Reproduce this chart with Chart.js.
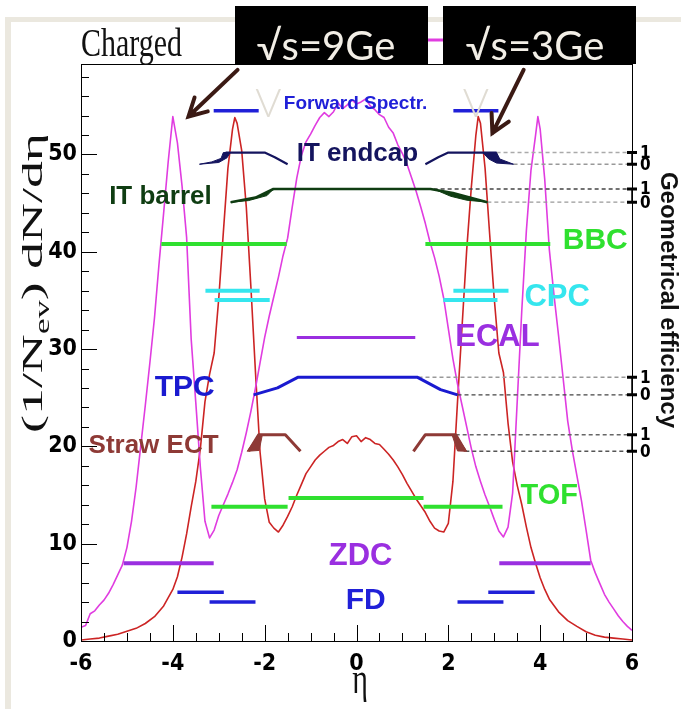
<!DOCTYPE html>
<html><head><meta charset="utf-8">
<script src="https://cdn.jsdelivr.net/npm/chart.js@4.4.0/dist/chart.umd.min.js"></script>
<style>html,body{margin:0;padding:0;background:#fff;overflow:hidden}canvas{display:block}</style>
</head><body>
<canvas id="c" width="681" height="709"></canvas>
<script>
// ---------- data ----------
const xTickValues = [-6,-4,-2,0,2,4,6];
const yTickValues = [0,10,20,30,40,50];

// sqrt(s)=9 GeV (magenta)
const eta9GeV = [-6.0,-5.9,-5.8,-5.7,-5.6,-5.5,-5.4,-5.3,-5.2,-5.1,-5.0,-4.9,-4.8,-4.7,-4.6,-4.5,-4.4,-4.3,-4.2,-4.1,-4.0,-3.9,-3.8,-3.7,-3.6,-3.5,-3.4,-3.3,-3.2,-3.1,-3.0,-2.9,-2.8,-2.7,-2.6,-2.5,-2.4,-2.3,-2.2,-2.1,-2.0,-1.9,-1.8,-1.7,-1.6,-1.5,-1.4,-1.3,-1.2,-1.1,-1.0,-0.9,-0.8,-0.7,-0.6,-0.5,-0.4,-0.3,-0.2,-0.1,0.0,0.1,0.2,0.3,0.4,0.5,0.6,0.7,0.8,0.9,1.0,1.1,1.2,1.3,1.4,1.5,1.6,1.7,1.8,1.9,2.0,2.1,2.2,2.3,2.4,2.5,2.6,2.7,2.8,2.9,3.0,3.1,3.2,3.3,3.4,3.5,3.6,3.7,3.8,3.9,3.95,4.0,4.1,4.2,4.3,4.4,4.5,4.6,4.7,4.8,4.9,5.0,5.1,5.2,5.3,5.4,5.5,5.6,5.7,5.8,5.9,6.0];
const dNdEta9GeV = [1.4,1.6,2.8,3.1,3.7,4.2,4.9,5.8,6.8,7.8,9.6,12.3,15.8,20.0,24.2,28.6,33.2,38.8,44.0,49.3,53.9,51.2,46.8,41.5,31.0,24.5,17.8,12.3,10.6,11.4,12.9,14.0,15.1,16.3,17.6,19.4,21.4,23.6,26.0,28.6,31.2,33.4,35.4,37.4,39.6,41.4,44.6,47.6,49.9,51.3,52.1,53.0,53.8,54.3,53.9,54.4,55.3,54.7,55.1,55.6,55.2,55.4,55.7,55.0,54.6,54.1,53.8,52.8,52.2,51.0,50.1,49.0,47.6,46.2,44.6,42.9,41.0,39.4,37.5,35.2,32.1,29.0,26.4,24.2,22.0,19.8,17.9,16.4,15.0,13.8,12.5,11.3,10.7,11.7,15.2,24.6,34.0,42.2,48.4,52.0,53.9,52.6,47.4,40.2,35.6,31.4,27.0,22.6,19.6,17.0,14.4,11.4,8.3,7.0,5.9,4.8,4.0,3.3,2.6,2.0,1.5,1.1];

// sqrt(s)=3 GeV (red)
const eta3GeV = [-6.0,-5.8,-5.6,-5.4,-5.2,-5.0,-4.8,-4.6,-4.4,-4.2,-4.0,-3.9,-3.8,-3.7,-3.6,-3.5,-3.4,-3.3,-3.2,-3.1,-3.0,-2.9,-2.8,-2.7,-2.65,-2.6,-2.5,-2.4,-2.3,-2.2,-2.1,-2.0,-1.9,-1.8,-1.7,-1.6,-1.5,-1.4,-1.3,-1.2,-1.1,-1.0,-0.9,-0.8,-0.7,-0.6,-0.5,-0.4,-0.3,-0.2,-0.1,0.0,0.1,0.2,0.3,0.4,0.5,0.6,0.7,0.8,0.9,1.0,1.1,1.2,1.3,1.4,1.5,1.6,1.7,1.8,1.9,2.0,2.1,2.2,2.3,2.4,2.5,2.6,2.65,2.7,2.8,2.9,3.0,3.1,3.2,3.3,3.4,3.5,3.6,3.7,3.8,3.9,4.0,4.1,4.2,4.4,4.6,4.8,5.0,5.2,5.4,5.6,5.8,6.0];
const dNdEta3GeV = [0.1,0.2,0.3,0.5,0.7,1.0,1.3,1.8,2.5,3.6,5.3,6.6,8.6,11.0,13.8,16.4,19.8,24.6,27.4,29.6,35.2,42.0,48.6,52.6,53.8,53.2,50.4,44.6,36.4,27.6,19.4,14.6,12.2,11.6,11.2,11.9,12.8,13.8,15.0,16.1,17.2,17.9,18.6,19.1,19.5,19.9,20.1,20.5,20.7,20.3,21.0,21.1,20.5,20.9,20.7,20.3,20.2,19.7,19.2,18.6,17.9,17.1,16.2,15.4,14.6,13.9,13.2,12.3,11.6,11.3,11.2,12.1,16.4,24.6,32.4,40.2,46.6,52.0,53.9,53.2,48.6,41.8,35.2,29.6,27.6,22.4,18.4,16.0,14.0,11.7,9.6,8.0,6.5,5.3,4.3,3.0,2.1,1.5,0.95,0.6,0.4,0.3,0.2,0.1];

// detector acceptance bars: eta ranges and the dN/deta level they are drawn at
const fwdSpectrRanges = [[-3.11,-2.13],[2.11,3.09]]; const fwdSpectrLevel = 54.5;
const bbcRanges = [[-4.25,-1.52],[1.50,4.22]];       const bbcLevel = 40.8;
const cpcUpperRanges = [[-3.29,-2.11],[2.11,3.31]];  const cpcUpperLevel = 36.0;
const cpcLowerRanges = [[-3.09,-1.89],[1.89,3.07]];  const cpcLowerLevel = 35.05;
const ecalRanges = [[-1.30,1.28]];                   const ecalLevel = 31.2;
const tofOuterRanges = [[-3.16,-1.50],[1.46,3.18]];  const tofOuterLevel = 13.8;
const tofInnerRanges = [[-1.48,1.46]];               const tofInnerLevel = 14.7;
const zdcRanges = [[-5.07,-3.11],[3.11,5.10]];       const zdcLevel = 8.0;
const fdUpperRanges = [[-3.90,-2.89],[2.87,3.88]];   const fdUpperLevel = 5.0;
const fdLowerRanges = [[-3.20,-2.20],[2.20,3.20]];   const fdLowerLevel = 4.0;

// geometrical efficiency curves: [eta, efficiency 0..1]; levels = [zero, one] in dN/deta units
const itEndcapLevels = [49.0, 50.2];
const itEndcapEffLeft  = [[-2.85,1],[-2.0,1],[-1.78,0.6],[-1.5,0]];
const itEndcapEffRight = [[1.5,0],[1.78,0.6],[2.0,1],[3.05,1]];
const itEndcapBlobLeft  = [[-3.42,0],[-3.15,0.2],[-2.95,0.5],[-2.9,1],[-2.75,1],[-2.82,0.55],[-3.0,0.15],[-3.42,0]];
const itEndcapBlobRight = [[2.75,1],[3.05,1],[3.12,0.45],[3.42,0],[3.05,0.1],[2.88,0.45],[2.75,1]];
const itBarrelLevels = [45.1, 46.45];
const itBarrelEff = [[-2.74,0],[-2.2,0.35],[-1.81,1],[1.61,1],[2.1,0.7],[2.85,0]];
const itBarrelBlobLeft  = [[-2.74,0],[-2.2,0.35],[-1.81,1],[-1.95,0.5],[-2.35,0.12],[-2.74,0]];
const itBarrelBlobRight = [[1.75,0.9],[2.1,0.7],[2.85,0],[2.4,0.15],[2.05,0.45],[1.75,0.9]];
const tpcLevels = [25.3, 27.1];
const tpcEff = [[-2.24,0],[-1.72,0.4],[-1.28,1],[1.33,1],[1.83,0.3],[2.2,0]];
const strawLevels = [19.5, 21.2];
const strawEffLeft  = [[-2.35,0],[-2.13,1],[-1.55,1],[-1.22,0]];
const strawEffRight = [[1.24,0],[1.5,1],[2.16,1],[2.37,0]];
const strawBlobLeft  = [[-2.38,0],[-2.13,1],[-2.05,1],[-2.12,0.05],[-2.38,0]];
const strawBlobRight = [[2.08,1],[2.16,1],[2.4,0],[2.2,0.02],[2.08,1]];
// where the dashed reference lines (eff = 1, eff = 0) start
const itEndcapRefStart = [3.05, 3.42];
const itBarrelRefStart = [1.68, 2.85];
const tpcRefStart = [1.35, 2.2];
const strawRefStart = [2.16, 2.37];

// ---------- build datasets ----------
const pts = (xs, ys) => xs.map((x,i)=>({x, y: ys[i]}));
const eff = (arr, lv) => arr.map(([x,e]) => ({x, y: lv[0] + e*(lv[1]-lv[0])}));
const datasets = [];
function addLine(data, color, width, extra) {
  datasets.push(Object.assign({data, borderColor: color, backgroundColor: color, borderWidth: width,
    pointRadius: 0, fill: false, tension: 0, order: 1}, extra || {}));
}
function addRanges(ranges, level, color, width) {
  ranges.forEach(r => addLine([{x:r[0],y:level},{x:r[1],y:level}], color, width, {borderCapStyle:'butt'}));
}
function addBlob(poly, lv, color) {
  addLine(eff(poly, lv), color, 1, {fill: 'shape', backgroundColor: color});
}
function addRefs(starts, lv, colors) {
  addLine([{x:starts[1],y:lv[0]},{x:6,y:lv[0]}], colors[0], 1.4, {borderDash:[4,3]});
  addLine([{x:starts[0],y:lv[1]},{x:6,y:lv[1]}], colors[1], 1.4, {borderDash:[4,3]});
}

const cBlue = '#2020d8', cNavy = '#14145e', cDkGreen = '#0f3d12', cGreen = '#2fe02f',
      cCyan = '#35e6ee', cPurple = '#9a2fe0', cBrown = '#8e3a36';

addRanges(fwdSpectrRanges, fwdSpectrLevel, cBlue, 3.5);
addLine(eff(itEndcapEffLeft, itEndcapLevels), cNavy, 2.2);
addLine(eff(itEndcapEffRight, itEndcapLevels), cNavy, 2.2);
addBlob(itEndcapBlobLeft, itEndcapLevels, cNavy);
addBlob(itEndcapBlobRight, itEndcapLevels, cNavy);
addLine(eff(itBarrelEff, itBarrelLevels), cDkGreen, 2.6);
addBlob(itBarrelBlobLeft, itBarrelLevels, cDkGreen);
addBlob(itBarrelBlobRight, itBarrelLevels, cDkGreen);
addRanges(bbcRanges, bbcLevel, cGreen, 4);
addRanges(cpcUpperRanges, cpcUpperLevel, cCyan, 4);
addRanges(cpcLowerRanges, cpcLowerLevel, cCyan, 4);
addRanges(ecalRanges, ecalLevel, cPurple, 3);
addLine(eff(tpcEff, tpcLevels), '#1a1ad0', 3);
addLine(eff(strawEffLeft, strawLevels), cBrown, 3);
addLine(eff(strawEffRight, strawLevels), cBrown, 3);
addBlob(strawBlobLeft, strawLevels, cBrown);
addBlob(strawBlobRight, strawLevels, cBrown);
addRanges(tofOuterRanges, tofOuterLevel, cGreen, 4);
addRanges(tofInnerRanges, tofInnerLevel, cGreen, 4);
addRanges(zdcRanges, zdcLevel, cPurple, 4);
addRanges(fdUpperRanges, fdUpperLevel, cBlue, 3.5);
addRanges(fdLowerRanges, fdLowerLevel, cBlue, 3.5);
addRefs(itEndcapRefStart, itEndcapLevels, ['#999','#aaa']);
addRefs(itBarrelRefStart, itBarrelLevels, ['#999','#444']);
addRefs(tpcRefStart, tpcLevels, ['#444','#999']);
addRefs(strawRefStart, strawLevels, ['#555','#666']);
// the two spectra (drawn underneath)
addLine(pts(eta9GeV, dNdEta9GeV), '#e03ce0', 1.6, {order: 5});
addLine(pts(eta3GeV, dNdEta3GeV), '#cc2424', 1.6, {order: 5});

// ---------- extra drawing (frame, ticks, labels, annotations) ----------
const sansB = (s) => `bold ${s}px "Liberation Sans", Arial, sans-serif`;
const serif = (s) => `${s}px "Liberation Serif", "Times New Roman", serif`;
const labelSpecs = [
  ['Forward Spectr.', -0.02, 55.2, 19, cBlue],
  ['IT endcap', 0.02, 50.05, 26, cNavy],
  ['IT barrel', -4.27, 45.7, 26, cDkGreen],
  ['BBC', 5.2, 41.1, 30, cGreen],
  ['CPC', 4.37, 35.3, 31, cCyan],
  ['ECAL', 3.07, 31.2, 31, cPurple],
  ['TPC', -3.74, 26.0, 30, '#1a1ad0'],
  ['Straw ECT', -4.42, 20.1, 26, cBrown],
  ['TOF', 4.2, 14.9, 29, cGreen],
  ['ZDC', 0.09, 8.7, 31, cPurple],
  ['FD', 0.2, 4.1, 30, cBlue]
];
const extras = {
  id: 'extras',
  beforeDraw(chart) {
    const ctx = chart.ctx;
    ctx.save();
    ctx.fillStyle = '#fff'; ctx.fillRect(0,0,chart.width,chart.height);
    ctx.fillStyle = '#ebe8df';
    ctx.fillRect(5,17,chart.width-5,5);
    ctx.fillRect(5,17,6,chart.height-17);
    ctx.restore();
  },
  afterDatasetsDraw(chart) {
    const ctx = chart.ctx, xs = chart.scales.x, ys = chart.scales.y, a = chart.chartArea;
    ctx.save();
    // frame
    ctx.strokeStyle = '#000'; ctx.lineWidth = 1;
    ctx.strokeRect(Math.round(a.left)+0.5, Math.round(a.top)+0.5, Math.round(a.right-a.left), Math.round(a.bottom-a.top));
    // inward ticks
    ctx.beginPath();
    for (let v = 0; v <= 58; v += 2) {
      const py = Math.round(ys.getPixelForValue(v)) + 0.5;
      const len = (v % 10 === 0) ? 16 : 8;
      ctx.moveTo(a.left, py); ctx.lineTo(a.left + len, py);
    }
    for (let k = -12; k <= 12; k++) {
      const v = k/2, px = Math.round(xs.getPixelForValue(v)) + 0.5;
      const len = (k % 4 === 0) ? 16 : 8;
      ctx.moveTo(px, a.bottom); ctx.lineTo(px, a.bottom - len);
    }
    ctx.stroke();
    // small efficiency axes on the right
    const px6 = xs.getPixelForValue(6);
    ctx.font = 'bold 17px "Liberation Sans Narrow", "DejaVu Sans Condensed", sans-serif';
    ctx.fillStyle = '#000'; ctx.textAlign = 'left'; ctx.textBaseline = 'middle';
    [itEndcapLevels, itBarrelLevels, tpcLevels, strawLevels].forEach(lv => {
      const y0 = ys.getPixelForValue(lv[0]), y1 = ys.getPixelForValue(lv[1]);
      ctx.lineWidth = 1.5;
      ctx.beginPath(); ctx.moveTo(px6, y0); ctx.lineTo(px6, y1); ctx.stroke();
      ctx.lineWidth = 3;
      ctx.beginPath(); ctx.moveTo(px6-5, y0); ctx.lineTo(px6+5, y0); ctx.moveTo(px6-5, y1); ctx.lineTo(px6+5, y1); ctx.stroke();
      ctx.fillText('0', px6+8, y0+1); ctx.fillText('1', px6+8, y1+1);
    });
    // detector labels
    ctx.textAlign = 'center'; ctx.textBaseline = 'middle';
    labelSpecs.forEach(([t, ex, ev, size, col]) => {
      ctx.font = sansB(size); ctx.fillStyle = col;
      ctx.fillText(t, xs.getPixelForValue(ex), ys.getPixelForValue(ev));
    });
    // faint "V" glyphs
    ctx.font = '300 40px Lato, "Open Sans", sans-serif'; ctx.fillStyle = '#e0dcd3';
    ctx.textBaseline = 'alphabetic';
    ctx.fillText('V', xs.getPixelForValue(-1.92), ys.getPixelForValue(53.9));
    ctx.fillText('V', xs.getPixelForValue(2.60), ys.getPixelForValue(53.9));
    ctx.restore();
  },
  afterDraw(chart) {
    const ctx = chart.ctx, xs = chart.scales.x, ys = chart.scales.y;
    ctx.save();
    // "Charged"
    ctx.translate(81, 56); ctx.scale(1, 1.35);
    ctx.font = serif(30); ctx.fillStyle = '#111'; ctx.textAlign = 'left'; ctx.textBaseline = 'alphabetic';
    ctx.fillText('Charged', 0, 0);
    ctx.restore();
    // x title
    ctx.save();
    ctx.translate(360, 693); ctx.scale(1, 1.45);
    ctx.font = serif(30); ctx.fillStyle = '#111'; ctx.textAlign = 'center';
    ctx.fillText('\u03b7', 0, 0);
    ctx.restore();
    // y title, rotated, with subscript
    ctx.save();
    ctx.translate(42, 433); ctx.rotate(-Math.PI/2);
    const p1 = '(1/N', p2 = 'ev', p3 = ') dN/d\u03b7';
    ctx.font = serif(30); const w1 = ctx.measureText(p1).width, w3 = ctx.measureText(p3).width;
    ctx.font = serif(20); const w2 = ctx.measureText(p2).width;
    const sx = 300 / (w1 + w2 + w3);
    ctx.scale(sx, 1);
    ctx.fillStyle = '#111'; ctx.textAlign = 'left'; ctx.textBaseline = 'alphabetic';
    ctx.font = serif(30); ctx.fillText(p1, 0, 0);
    ctx.font = serif(20); ctx.fillText(p2, w1, 7);
    ctx.font = serif(30); ctx.fillText(p3, w1 + w2, 0);
    ctx.restore();
    // right title
    ctx.save();
    ctx.translate(661, 300); ctx.rotate(Math.PI/2);
    ctx.font = sansB(24); ctx.fillStyle = '#111'; ctx.textAlign = 'center'; ctx.textBaseline = 'alphabetic';
    ctx.fillText('Geometrical efficiency', 0, 0);
    ctx.restore();
    // legend fragment + black boxes
    ctx.save();
    ctx.strokeStyle = '#e03ce0'; ctx.lineWidth = 3;
    ctx.beginPath(); ctx.moveTo(427, 40); ctx.lineTo(444, 40); ctx.stroke();
    ctx.fillStyle = '#000';
    ctx.fillRect(235, 6, 193, 58);
    ctx.fillRect(443, 6, 193, 58);
    ctx.font = '40px Lato, "Open Sans", sans-serif'; ctx.fillStyle = '#f2eee6';
    ctx.textAlign = 'center'; ctx.textBaseline = 'alphabetic';
    ctx.fillText('\u221As=9Ge', 326, 60);
    ctx.fillText('\u221As=3Ge', 535, 60);
    // arrows (tips anchored at data points next to the peaks)
    ctx.strokeStyle = '#3b1a14'; ctx.lineWidth = 4; ctx.lineCap = 'round';
    const arrow = (tx, ty, hx, hy) => {
      const ang = Math.atan2(hy - ty, hx - tx), L = 20;
      ctx.beginPath(); ctx.moveTo(tx, ty); ctx.lineTo(hx, hy);
      ctx.moveTo(hx - L*Math.cos(ang - 0.5), hy - L*Math.sin(ang - 0.5)); ctx.lineTo(hx, hy);
      ctx.lineTo(hx - L*Math.cos(ang + 0.5), hy - L*Math.sin(ang + 0.5));
      ctx.stroke();
    };
    arrow(xs.getPixelForValue(-2.59), ys.getPixelForValue(58.7), xs.getPixelForValue(-3.66), ys.getPixelForValue(53.9));
    arrow(xs.getPixelForValue(3.64), ys.getPixelForValue(58.7), xs.getPixelForValue(2.96), ys.getPixelForValue(52.2));
    ctx.restore();
  }
};

const tickFont = {family: '"Liberation Sans Narrow", "DejaVu Sans Condensed", sans-serif', weight: 'bold', size: 23};
new Chart(document.getElementById('c'), {
  type: 'line',
  data: { datasets },
  options: {
    responsive: false, animation: false, devicePixelRatio: 1,
    layout: { padding: { top: 64, right: 49, left: 0, bottom: 0 } },
    plugins: { legend: { display: false }, tooltip: { enabled: false } },
    elements: { line: { borderJoinStyle: 'round' } },
    scales: {
      x: { type: 'linear', min: -6, max: 6,
           grid: { display: false, drawTicks: false }, border: { display: false },
           afterBuildTicks: s => { s.ticks = xTickValues.map(v => ({value: v})); },
           afterFit: s => { s.height = 68; },
           ticks: { font: tickFont, color: '#000', padding: 9, maxRotation: 0, autoSkip: false } },
      y: { type: 'linear', min: 0, max: 59.3,
           grid: { display: false, drawTicks: false }, border: { display: false },
           afterBuildTicks: s => { s.ticks = yTickValues.map(v => ({value: v})); },
           afterFit: s => { s.width = 81; },
           ticks: { font: tickFont, color: '#000', padding: 4, autoSkip: false } }
    }
  },
  plugins: [extras]
});
</script>
</body></html>
